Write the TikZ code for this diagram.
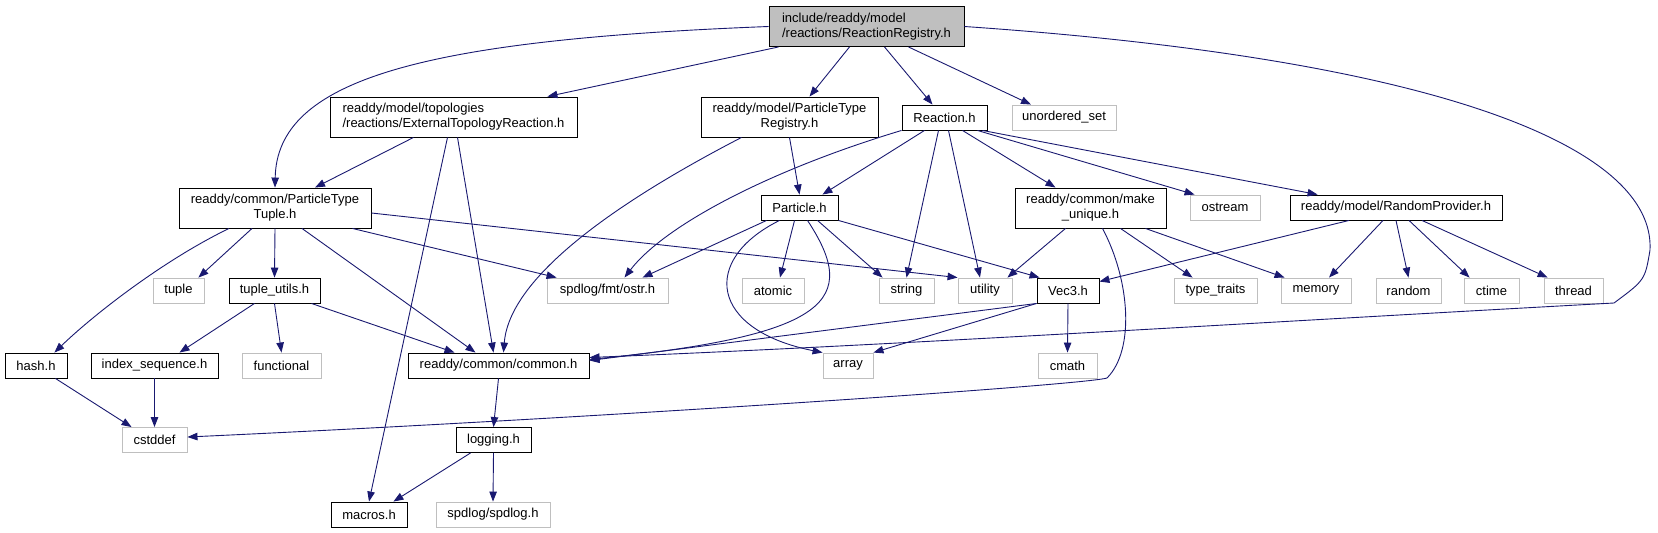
\documentclass[tikz,border=0pt]{standalone}
\usepackage{fontspec}
\setmainfont{Liberation Sans}
\usepackage{tikz}
\usetikzlibrary{arrows.meta}
\definecolor{edgeblue}{HTML}{191970}
\definecolor{sysgray}{HTML}{BFBFBF}

\begin{document}
\begin{tikzpicture}[
      x=1pt, y=-1pt,
      hdr/.style={draw=black, line width=0.9pt, fill=white, inner sep=0pt,
      minimum width=#1pt, minimum height=25pt,
      font=\fontsize{13}{15}\selectfont},
      sys/.style={hdr=#1, draw=sysgray},
      top/.style={hdr=#1, fill=sysgray},
      tall/.style={minimum height=40pt},
      dep/.style={-{Triangle[length=10pt, width=7.5pt]}, edgeblue,
      line width=0.9pt}
    ]
    \useasboundingbox (0,0) rectangle (1658,533);

    \node[top=195, tall, align=left] (root) at (866.5,26.5)
    {include/readdy/model\\/reactions/ReactionRegistry.h};

    \node[hdr=247, tall, align=left] (ext) at (453.5,117)
    {readdy/model/topologies\\/reactions/ExternalTopologyReaction.h};
    \node[hdr=177, tall, align=center] (ptr) at (789.5,117)
    {readdy/model/ParticleType\\Registry.h};
    \node[hdr=85] (reaction) at (944.5,117.5) {Reaction.h};
    \node[sys=104] (uset) at (1064,117.5) {unordered\_set};

    \node[hdr=192, tall, align=center] (ptt) at (275,208)
    {readdy/common/ParticleType\\Tuple.h};
    \node[hdr=77] (particle) at (799.5,207.5) {Particle.h};
    \node[hdr=151, tall, align=center] (mkuniq) at (1090.5,208)
    {readdy/common/make\\\_unique.h};
    \node[sys=70] (ostream) at (1225,207.5) {ostream};
    \node[hdr=212] (randprov) at (1396,207.5) {readdy/model/RandomProvider.h};

    \node[sys=51] (tuple) at (178.5,290.5) {tuple};
    \node[hdr=91] (tu) at (274.5,290.5) {tuple\_utils.h};
    \node[sys=121] (ostr) at (607.5,290.5) {spdlog/fmt/ostr.h};
    \node[sys=62] (atomic) at (773,290.5) {atomic};
    \node[sys=55] (string) at (906.5,290.5) {string};
    \node[sys=54] (utility) at (985,290.5) {utility};
    \node[hdr=62] (vec3) at (1068,290.5) {Vec3.h};
    \node[sys=83] (typetraits) at (1215.5,290.5) {type\_traits};
    \node[sys=70] (memory) at (1316,290.5) {memory};
    \node[sys=65] (random) at (1408.5,290.5) {random};
    \node[sys=55] (ctime) at (1491.5,290.5) {ctime};
    \node[sys=59] (thread) at (1573.5,290.5) {thread};

    \node[hdr=62] (hash) at (36,365.5) {hash.h};
    \node[hdr=127] (idxseq) at (154.5,365.5) {index\_sequence.h};
    \node[sys=79] (functional) at (281.5,365.5) {functional};
    \node[hdr=181] (common) at (498.5,365.5) {readdy/common/common.h};
    \node[sys=50] (array) at (848,365.5) {array};
    \node[sys=59] (cmath) at (1067.5,365.5) {cmath};

    \node[sys=65] (cstddef) at (154.5,440) {cstddef};
    \node[hdr=75] (logging) at (493.5,440) {logging.h};

    \node[hdr=76] (macros) at (369,514.5) {macros.h};
    \node[sys=114] (spdlog) at (493,514.5) {spdlog/spdlog.h};

    \draw[dep] (root.west) .. controls (420,40) and (277,80) .. (ptt.north);
    \draw[dep] ([xshift=10pt]root.south west) -- ([xshift=-30pt]ext.north east);
    \draw[dep] ([xshift=-17pt]root.south) -- ([xshift=20pt]ptr.north);
    \draw[dep] ([xshift=18pt]root.south) -- ([xshift=-12pt]reaction.north);
    \draw[dep] ([xshift=42pt]root.south) -- ([xshift=-33pt]uset.north);
    \draw[dep] (root.east) .. controls (1450,60) and (1655,150) .. (1650,250)
    .. controls (1645,280) .. (1614,303)
    .. controls (1300,320) and (900,345) .. ([yshift=8pt]common.east);

    \draw[dep] ([xshift=-40pt]ext.south) -- ([xshift=40pt]ptt.north);
    \draw[dep] ([xshift=-6pt]ext.south) -- (macros.north);
    \draw[dep] ([xshift=4pt]ext.south) -- ([xshift=-5pt]common.north);

    \draw[dep] ([xshift=-48pt]ptr.south) .. controls (640,190) and (510,270)
    .. ([xshift=5pt]common.north);
    \draw[dep] (ptr.south) -- (particle.north);

    \draw[dep] ([xshift=-20pt]reaction.south) -- ([xshift=-16pt]particle.north east);
    \draw[dep] (reaction.south west) .. controls (770,170) and (665,225)
    .. ([xshift=17pt]ostr.north);
    \draw[dep] ([xshift=-6pt]reaction.south) -- (string.north);
    \draw[dep] ([xshift=4pt]reaction.south) -- ([xshift=-5pt]utility.north);
    \draw[dep] ([xshift=18pt]reaction.south) -- ([xshift=-35pt]mkuniq.north);
    \draw[dep] ([xshift=-10pt]reaction.south east) -- ([xshift=5pt]ostream.north west);
    \draw[dep] ([xshift=-5pt]reaction.south east) -- ([xshift=28pt]randprov.north west);

    \draw[dep] ([xshift=-46pt]ptt.south) .. controls (160,262) and (90,318)
    .. ([xshift=-13pt]hash.north east);
    \draw[dep] ([xshift=-23pt]ptt.south) -- ([xshift=-6pt]tuple.north east);
    \draw[dep] (ptt.south) -- (tu.north);
    \draw[dep] ([xshift=27pt]ptt.south) -- ([xshift=-23pt]common.north);
    \draw[dep] ([xshift=-19pt]ptt.south east) -- ([xshift=10pt]ostr.north west);
    \draw[dep] ([yshift=-5pt]ptt.east) -- (utility.north west);

    \draw[dep] ([xshift=6pt]particle.south west) -- ([xshift=35pt]ostr.north);
    \draw[dep] ([xshift=-20pt]particle.south) .. controls (700,260) and (710,330)
    .. (array.north west);
    \draw[dep] ([xshift=-5pt]particle.south) -- ([xshift=7pt]atomic.north);
    \draw[dep] ([xshift=8pt]particle.south) .. controls (860,300) and (830,335)
    .. ([yshift=6pt]common.east);
    \draw[dep] ([xshift=18pt]particle.south) -- ([xshift=4pt]string.north west);
    \draw[dep] (particle.south east) -- ([xshift=3pt]vec3.north west);

    \draw[dep] ([xshift=-25pt]mkuniq.south) -- ([xshift=-5pt]utility.north east);
    \draw[dep] ([xshift=12pt]mkuniq.south) .. controls (1130,280) and (1135,350)
    .. (1107,378) .. controls (1085,385) and (600,418) .. ([yshift=3pt]cstddef.east);
    \draw[dep] ([xshift=30pt]mkuniq.south) -- ([xshift=19pt]typetraits.north west);
    \draw[dep] ([xshift=-21pt]mkuniq.south east) -- ([xshift=4pt]memory.north west);

    \draw[dep] ([xshift=-47pt]randprov.south) -- ([yshift=-4pt]vec3.north east);
    \draw[dep] ([xshift=-13pt]randprov.south) -- ([xshift=13pt]memory.north);
    \draw[dep] (randprov.south) -- (random.north);
    \draw[dep] ([xshift=13pt]randprov.south) -- ([xshift=6pt]ctime.north west);
    \draw[dep] ([xshift=26pt]randprov.south) -- ([xshift=4pt]thread.north west);

    \draw[dep] ([xshift=-20pt]tu.south) -- ([xshift=25pt]idxseq.north);
    \draw[dep] (tu.south) -- (functional.north);
    \draw[dep] ([xshift=-9pt]tu.south east) -- ([xshift=-44pt]common.north);

    \draw[dep] (vec3.south west) -- ([yshift=5pt]common.east);
    \draw[dep] (vec3.south west) -- (array.north east);
    \draw[dep] (vec3.south) -- (cmath.north);

    \draw[dep] ([xshift=-12pt]hash.south east) -- ([xshift=10pt]cstddef.north west);
    \draw[dep] (idxseq.south) -- (cstddef.north);
    \draw[dep] (common.south) -- (logging.north);
    \draw[dep] ([xshift=15pt]logging.south west) -- ([xshift=-14pt]macros.north east);
    \draw[dep] (logging.south) -- (spdlog.north);
  \end{tikzpicture}
\end{document}
